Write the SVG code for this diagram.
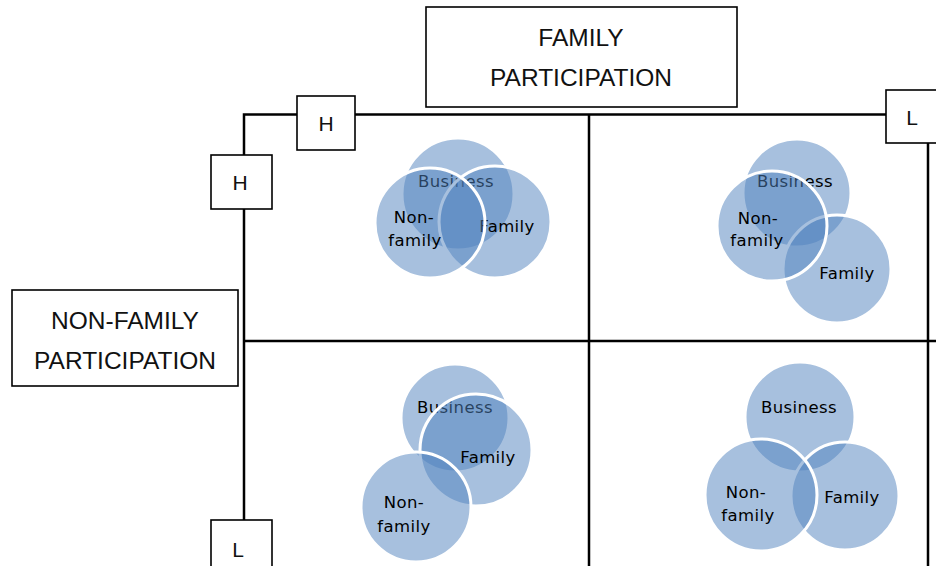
<svg xmlns="http://www.w3.org/2000/svg" width="936" height="566" viewBox="0 0 936 566">
  <style>
    .grid { stroke: #000; stroke-width: 2.5; fill: none; }
    .box { fill: #fff; stroke: #000; stroke-width: 1.6; }
    .boxtxt { font-family: "Liberation Sans", Arial, sans-serif; font-size: 24.5px; fill: #111; text-anchor: middle; }
    .hl { font-family: "Liberation Sans", Arial, sans-serif; font-size: 21px; fill: #111; text-anchor: middle; }
    .c { fill: #4f81bd; fill-opacity: 0.5; stroke: #fff; stroke-width: 3; }
    .ct { font-family: "DejaVu Sans", Verdana, sans-serif; font-size: 16.5px; letter-spacing: 0.4px; fill: #000; text-anchor: middle; }
  </style>

  <rect width="936" height="566" fill="#fff"/>

  <!-- matrix lines -->
  <g id="connectors">
    <path class="grid" d="M244 520 V114.5 H886"/>
    <line class="grid" x1="589" y1="114.5" x2="589" y2="566"/>
    <line class="grid" x1="244" y1="341" x2="936" y2="341"/>
    <line class="grid" x1="928" y1="143" x2="928" y2="566"/>
  </g>

  <!-- axis title boxes -->
  <g id="family-participation">
    <rect class="box" x="426" y="7" width="311" height="100"/>
    <text class="boxtxt" x="581" y="46">FAMILY</text>
    <text class="boxtxt" x="581" y="86">PARTICIPATION</text>
  </g>
  <g id="nonfamily-participation">
    <rect class="box" x="12" y="290" width="226" height="96"/>
    <text class="boxtxt" x="125" y="329">NON-FAMILY</text>
    <text class="boxtxt" x="125" y="369">PARTICIPATION</text>
  </g>

  <!-- level markers -->
  <g id="top-high">
    <rect class="box" x="297" y="96" width="58" height="54"/>
    <text class="hl" x="326" y="131">H</text>
  </g>
  <g id="top-low">
    <rect class="box" x="886" y="90" width="52" height="53"/>
    <text class="hl" x="912" y="125">L</text>
  </g>
  <g id="left-high">
    <rect class="box" x="211" y="155" width="61" height="54"/>
    <text class="hl" x="240" y="190">H</text>
  </g>
  <g id="left-low">
    <rect class="box" x="211" y="520" width="61" height="54"/>
    <text class="hl" x="238" y="557">L</text>
  </g>

  <!-- high / high -->
  <g id="venn-hh">
    <circle class="c" cx="458" cy="194" r="56"/>
    <text class="ct" x="456" y="187">Business</text>
    <circle class="c" cx="495" cy="222" r="56"/>
    <text class="ct" x="507" y="232">Family</text>
    <circle class="c" cx="430" cy="223" r="55"/>
    <text class="ct" x="414" y="223">Non-</text>
    <text class="ct" x="415" y="246">family</text>
  </g>

  <!-- high family / low non-family -->
  <g id="venn-hl">
    <circle class="c" cx="797" cy="193" r="54"/>
    <text class="ct" x="795" y="187">Business</text>
    <circle class="c" cx="837" cy="269" r="54"/>
    <text class="ct" x="847" y="279">Family</text>
    <circle class="c" cx="772" cy="226" r="55"/>
    <text class="ct" x="758" y="224">Non-</text>
    <text class="ct" x="757" y="246">family</text>
  </g>

  <!-- low family / high non-family -->
  <g id="venn-lh">
    <circle class="c" cx="455" cy="418" r="54"/>
    <text class="ct" x="455" y="413">Business</text>
    <circle class="c" cx="476" cy="450" r="56"/>
    <text class="ct" x="488" y="463">Family</text>
    <circle class="c" cx="416" cy="507" r="55"/>
    <text class="ct" x="404" y="508">Non-</text>
    <text class="ct" x="404" y="532">family</text>
  </g>

  <!-- low / low -->
  <g id="venn-ll">
    <circle class="c" cx="800" cy="417" r="55"/>
    <text class="ct" x="799" y="413">Business</text>
    <circle class="c" cx="845" cy="496" r="54"/>
    <text class="ct" x="852" y="503">Family</text>
    <circle class="c" cx="761" cy="495" r="56"/>
    <text class="ct" x="746" y="498">Non-</text>
    <text class="ct" x="748" y="521">family</text>
  </g>
</svg>
